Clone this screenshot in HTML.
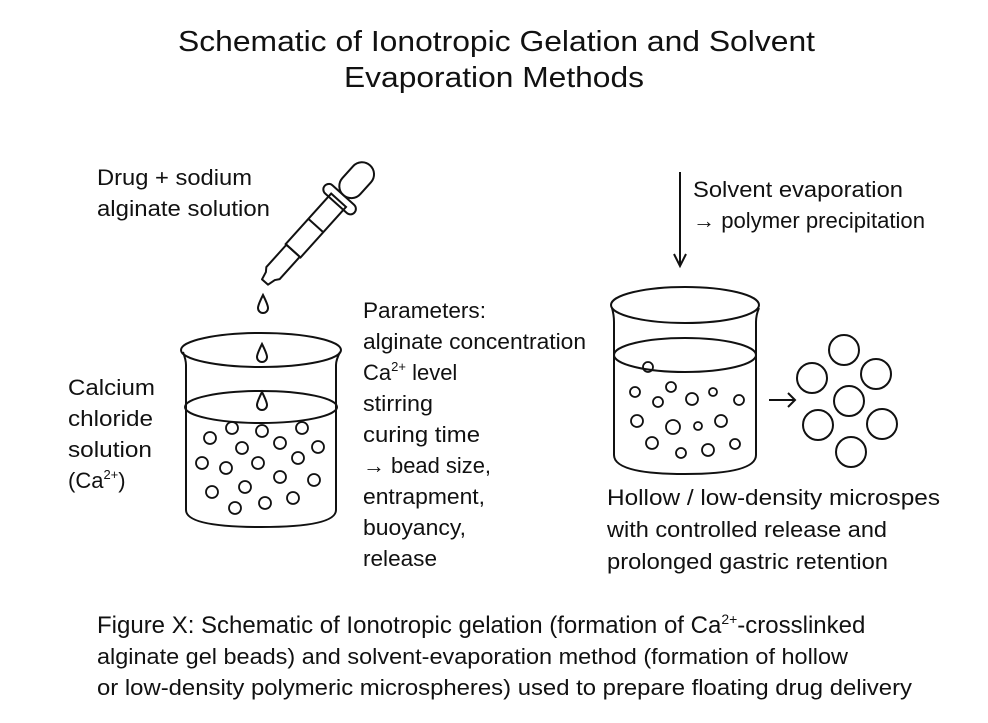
<!DOCTYPE html>
<html><head><meta charset="utf-8"><style>
html,body{margin:0;padding:0;background:#fff;}
svg{display:block}
text{font-family:"Liberation Sans",sans-serif;fill:#111;}
</style></head><body>
<svg width="988" height="723" viewBox="0 0 988 723" xmlns="http://www.w3.org/2000/svg">
<text x="178" y="51" font-size="29" textLength="637" lengthAdjust="spacingAndGlyphs">Schematic of Ionotropic Gelation and Solvent</text>
<text x="344" y="87" font-size="29" textLength="300" lengthAdjust="spacingAndGlyphs">Evaporation Methods</text>

<g font-size="22">
<text x="97" y="185" textLength="155" lengthAdjust="spacingAndGlyphs">Drug + sodium</text>
<text x="97" y="216" textLength="173" lengthAdjust="spacingAndGlyphs">alginate solution</text>
<text x="68" y="395" textLength="87" lengthAdjust="spacingAndGlyphs">Calcium</text>
<text x="68" y="426" textLength="85" lengthAdjust="spacingAndGlyphs">chloride</text>
<text x="68" y="457" textLength="84" lengthAdjust="spacingAndGlyphs">solution</text>
<text x="68" y="488">(Ca<tspan font-size="13" dy="-9">2+</tspan><tspan dy="9">)</tspan></text>

<text x="363" y="318" textLength="123" lengthAdjust="spacingAndGlyphs">Parameters:</text>
<text x="363" y="349" textLength="223" lengthAdjust="spacingAndGlyphs">alginate concentration</text>
<text x="363" y="380">Ca<tspan font-size="13" dy="-9">2+</tspan><tspan dy="9"> level</tspan></text>
<text x="363" y="411" textLength="70" lengthAdjust="spacingAndGlyphs">stirring</text>
<text x="363" y="442" textLength="117" lengthAdjust="spacingAndGlyphs">curing time</text>
<text x="363" y="473" textLength="128" lengthAdjust="spacingAndGlyphs">→ bead size,</text>
<text x="363" y="504" textLength="122" lengthAdjust="spacingAndGlyphs">entrapment,</text>
<text x="363" y="535" textLength="103" lengthAdjust="spacingAndGlyphs">buoyancy,</text>
<text x="363" y="566" textLength="74" lengthAdjust="spacingAndGlyphs">release</text>

<text x="693" y="197" textLength="210" lengthAdjust="spacingAndGlyphs">Solvent evaporation</text>
<text x="693" y="228" textLength="232" lengthAdjust="spacingAndGlyphs">→ polymer precipitation</text>

<text x="607" y="505" textLength="333" lengthAdjust="spacingAndGlyphs">Hollow / low-density microspes</text>
<text x="607" y="537" textLength="280" lengthAdjust="spacingAndGlyphs">with controlled release and</text>
<text x="607" y="569" textLength="281" lengthAdjust="spacingAndGlyphs">prolonged gastric retention</text>

<text x="97" y="633" font-size="24">Figure X: Schematic of Ionotropic gelation (formation of Ca<tspan font-size="14" dy="-9">2+</tspan><tspan dy="9">-crosslinked</tspan></text>
<text x="97" y="664" textLength="751" lengthAdjust="spacingAndGlyphs">alginate gel beads) and solvent-evaporation method (formation of hollow</text>
<text x="97" y="695" textLength="815" lengthAdjust="spacingAndGlyphs">or low-density polymeric microspheres) used to prepare floating drug delivery</text>
</g>

<g fill="none" stroke="#111" stroke-width="2">
<g transform="translate(265,282) rotate(-48)">
<path d="M0,-4 L8,-6 L12,-9 L42,-9 L42,9 L12,9 L8,6 L0,4 Z" stroke-linejoin="round"/>
<rect x="42" y="-10" width="68" height="20"/>
<line x1="76" y1="-10" x2="76" y2="10"/>
<rect x="106" y="-20" width="11" height="40" rx="5.5"/>
<rect x="117" y="-12" width="40" height="24" rx="12"/>
</g>
<path d="M263,295 C259,303 258,306 258,308 a5,5 0 0,0 10,0 C268,306 267,303 263,295Z"/>
<path d="M262,344 C258,352 257,355 257,357 a5,5 0 0,0 10,0 C267,355 266,352 262,344Z"/>
<path d="M262,392 C258,400 257,403 257,405 a5,5 0 0,0 10,0 C267,403 266,400 262,392Z"/>
<ellipse cx="261" cy="350" rx="80" ry="17"/>
<path d="M183,352 Q186,360 186,365 L186,510 Q186,527 261,527 Q336,527 336,510 L336,365 Q336,360 340,352"/>
<ellipse cx="261" cy="407" rx="76" ry="16"/>
<g stroke-width="1.8">
<circle cx="232" cy="428" r="6"/><circle cx="262" cy="431" r="6"/><circle cx="302" cy="428" r="6"/>
<circle cx="210" cy="438" r="6"/><circle cx="242" cy="448" r="6"/><circle cx="280" cy="443" r="6"/><circle cx="318" cy="447" r="6"/>
<circle cx="202" cy="463" r="6"/><circle cx="226" cy="468" r="6"/><circle cx="258" cy="463" r="6"/><circle cx="298" cy="458" r="6"/>
<circle cx="280" cy="477" r="6"/><circle cx="314" cy="480" r="6"/><circle cx="212" cy="492" r="6"/><circle cx="245" cy="487" r="6"/>
<circle cx="235" cy="508" r="6"/><circle cx="265" cy="503" r="6"/><circle cx="293" cy="498" r="6"/>
</g>
<line x1="680" y1="172" x2="680" y2="265"/>
<path d="M674,254 L680,266 L686,254"/>
<ellipse cx="685" cy="305" rx="74" ry="18"/>
<path d="M612,308 Q614,315 614,322 L614,455 Q614,474 685,474 Q756,474 756,455 L756,322 Q756,315 759,308"/>
<ellipse cx="685" cy="355" rx="71" ry="17"/>
<g stroke-width="1.8">
<circle cx="648" cy="367" r="5"/>
<circle cx="635" cy="392" r="5"/><circle cx="671" cy="387" r="5"/><circle cx="658" cy="402" r="5"/><circle cx="692" cy="399" r="6"/><circle cx="713" cy="392" r="4"/><circle cx="739" cy="400" r="5"/>
<circle cx="637" cy="421" r="6"/><circle cx="673" cy="427" r="7"/><circle cx="698" cy="426" r="4"/><circle cx="721" cy="421" r="6"/>
<circle cx="652" cy="443" r="6"/><circle cx="681" cy="453" r="5"/><circle cx="708" cy="450" r="6"/><circle cx="735" cy="444" r="5"/>
</g>
<line x1="769" y1="400" x2="795" y2="400"/>
<path d="M788,393 L795,400 L788,407"/>
<circle cx="844" cy="350" r="15"/><circle cx="812" cy="378" r="15"/><circle cx="876" cy="374" r="15"/>
<circle cx="849" cy="401" r="15"/><circle cx="818" cy="425" r="15"/><circle cx="882" cy="424" r="15"/><circle cx="851" cy="452" r="15"/>
</g>
</svg>
</body></html>
